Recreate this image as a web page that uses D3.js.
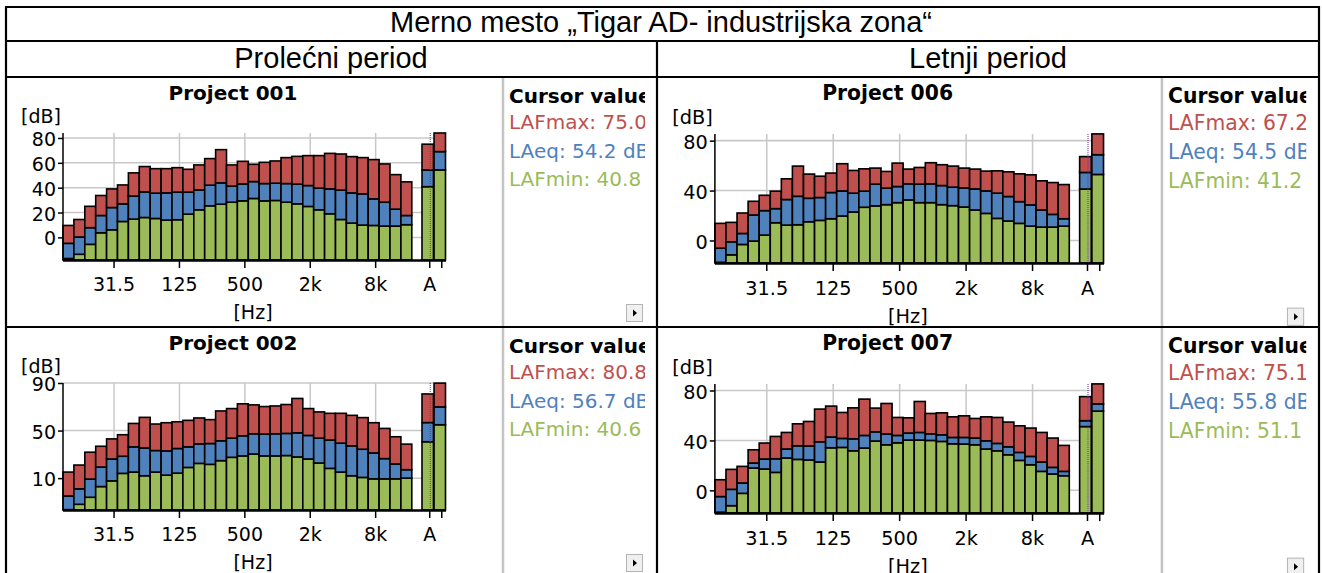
<!DOCTYPE html>
<html>
<head>
<meta charset="utf-8">
<script src="https://cdn.jsdelivr.net/npm/d3@7/dist/d3.min.js"></script>
<style>
  body { margin: 0; background: #fff; }
  svg { display: block; }
</style>
</head>
<body>
<script>
// 1/3 octave bands 12.5 Hz .. 16 kHz, then the two overall bars
var bands = ['12.5','16','20','25','31.5','40','50','63','80','100','125','160','200','250','315','400',
             '500','630','800','1k','1.25k','1.6k','2k','2.5k','3.15k','4k','5k','6.3k','8k','10k','12.5k','16k'];
var xTickLabels = ['31.5','125','500','2k','8k'];
var sumBands = ['A','Z'];
var seriesColors = { max: '#c0504d', eq: '#4f81bd', min: '#9bbb59' };

// Project 001 (prolecni)
var p001Max = [9.6,14.4,25,33.7,39,42.2,51.9,57,55.3,55.3,56.1,54.8,58.3,63.4,70.6,58.3,61.2,58.8,60.4,61.5,64.2,65.2,65.8,65.8,67.6,67.1,65,64.2,62.6,59.1,50.5,44.7];
var p001Eq  = [-4.8,0.3,7.8,17.6,24,27,33.2,36.6,35.6,35.8,36.4,36.4,38.2,42,43.9,41.2,43,44.9,43.3,43.6,43.3,42.8,41.7,39.6,39,38,35.8,35,31,28.3,22.7,17.6];
var p001Min = [-17,-13.6,-5.6,3.7,6.1,12.8,14.7,16,15.2,13.9,14.2,18.7,22.2,25.4,26.7,28.3,29.4,31.3,29.4,29.7,28.3,27,24.9,22.2,19,14.4,11.5,9.9,9.6,9.1,9.1,10.2];
var p001SumMax = [75.0, 84.0];
var p001SumEq  = [54.2, 69.0];
var p001SumMin = [40.8, 54.3];

// Project 002 (prolecni)
var p002Max = [15.1,21,31.8,36.8,43,46.5,56,61.1,55.5,56.6,57.4,58.6,60.6,59.2,66.5,68.5,72.5,71.6,70.2,70.7,71.9,77,68.5,65.7,64.5,64.5,62.8,60.9,56.6,51.8,44.8,38.6];
var p002Eq  = [-5,1,9.2,19.3,26.1,28.4,36.3,35.4,33.2,32.9,34.9,36.3,38.8,39.1,41.4,43.6,45.6,47.3,47,47.3,47.6,48.1,45.9,43.6,42,39.4,37.1,34.3,31.2,26.4,21.9,17.1];
var p002Min = [-16.5,-12,-6.1,2.9,7.7,14,15.1,12,15.1,12.5,14.2,19,22.4,21.6,24.7,27.5,28.7,30.3,28.7,28.7,29,27.8,26.1,22.7,18.2,15.1,12,10.6,9.4,9.4,9.4,10];
var p002SumMax = [80.8, 89.9];
var p002SumEq  = [56.7, 69.9];
var p002SumMin = [40.6, 54.9];

// Project 006 (letnji)
var p006Max = [13.7,14.5,22,31.4,36.2,39.5,49.4,59.6,53.2,51.5,54,61.5,56.1,57.4,58,55.3,62,57.2,58.5,62.3,60.7,59.6,58,57.2,55.6,55.8,55,53.4,52.6,47.8,46.4,44.8];
var p006Eq  = [-6.2,-1.1,5.6,20.4,23.9,25.5,32.8,35.4,33.8,34.4,38.4,39.7,37.9,39.5,45.1,41.9,43.2,45.4,45.1,45.4,44,42.7,42.1,41.3,39.7,37.9,35.2,31.1,28.5,24.4,20.9,17.4];
var p006Min = [-17.5,-11.5,-3.2,-0.5,4.3,14.2,12.3,12.6,15,16.1,17.4,19.6,22.8,26.6,27.7,28.7,30.3,32.5,30.3,30.3,28.7,27.9,26.8,24.4,21.7,17.7,15.6,13.7,11.5,10.7,10.7,11.5];
var p006SumMax = [67.2, 85.4];
var p006SumEq  = [54.5, 68.7];
var p006SumMin = [41.2, 52.9];

// Project 007 (letnji)
var p007Max = [8.5,16.8,19.2,32.5,37.9,43.2,46.4,53.3,55.2,65.1,67.5,62.4,66.1,73.1,65.9,69.6,58.4,58.1,71.2,61.6,62.1,58.9,59.7,57.6,58.9,58.4,54.7,51.7,49.9,46.4,41.9,36];
var p007Eq  = [-5,0.8,5.9,21.9,25.1,25.3,33.1,35.7,35.5,38.9,42.7,41.6,41.3,44,46.9,45.1,44,45.9,46.4,45.3,44.5,42.4,42.4,41.9,39.7,37.6,34.9,30.4,27.2,22.7,18.4,15.2];
var p007Min = [-17.5,-12.3,-2.4,17.9,17.1,14.4,25.9,24.8,24.3,22.7,34.1,34.4,31.7,33.9,39.5,36.5,38.1,40.3,40.3,40,39.2,37.3,37.1,36.5,33.1,31.7,28.5,24,20.5,15.2,13.1,11.7];
var p007SumMax = [75.1, 85.3];
var p007SumEq  = [55.8, 69.3];
var p007SumMin = [51.1, 63.5];

var W = 1322, H = 573;
var svg = d3.select('body').append('svg').attr('width', W).attr('height', H);
var defs = svg.append('defs');

// table headers
var hdr = 'Liberation Sans, Arial, sans-serif';
svg.append('text').attr('x', 661).attr('y', 32).attr('text-anchor', 'middle')
   .style('font-family', hdr).style('font-size', '29px')
   .text('Merno mesto \u201ETigar AD- industrijska zona\u201C');
svg.append('text').attr('x', 331).attr('y', 68).attr('text-anchor', 'middle')
   .style('font-family', hdr).style('font-size', '29px').text('Prole\u0107ni period');
svg.append('text').attr('x', 988).attr('y', 68).attr('text-anchor', 'middle')
   .style('font-family', hdr).style('font-size', '29px').text('Letnji period');

var panels = [
  { title: 'Project 001', max: p001Max, eq: p001Eq, min: p001Min, sMax: p001SumMax, sEq: p001SumEq, sMin: p001SumMin,
    yDomain: [-18.2, 84], yTicks: [0,20,40,60,80], x: 7, y: 77, s: 1, cw: 650, ch: 250 },
  { title: 'Project 002', max: p002Max, eq: p002Eq, min: p002Min, sMax: p002SumMax, sEq: p002SumEq, sMin: p002SumMin,
    yDomain: [-16.8, 90], yTicks: [10,50,90], x: 7, y: 327, s: 1, cw: 650, ch: 250 },
  { title: 'Project 006', max: p006Max, eq: p006Eq, min: p006Min, sMax: p006SumMax, sEq: p006SumEq, sMin: p006SumMin,
    yDomain: [-18, 85.4], yTicks: [0,40,80], x: 658, y: 77, s: 1.016, cw: 661, ch: 250 },
  { title: 'Project 007', max: p007Max, eq: p007Eq, min: p007Min, sMax: p007SumMax, sEq: p007SumEq, sMin: p007SumMin,
    yDomain: [-18.1, 85.3], yTicks: [0,40,80], x: 658, y: 327, s: 1.016, cw: 661, ch: 250 }
];

var font = 'DejaVu Sans, Verdana, sans-serif';

function stackedBars(g, rows, xs, y, lo) {
  var keys = ['min','eq','max'];
  rows.forEach(function (r) {
    var prev = lo;
    keys.forEach(function (k) {
      var v = Math.max(r[k], lo);
      g.append('rect')
        .attr('x', xs(r.band))
        .attr('width', xs.bandwidth())
        .attr('y', y(v))
        .attr('height', Math.max(0, y(prev) - y(v)))
        .attr('fill', seriesColors[k])
        .attr('stroke', '#000')
        .attr('stroke-width', 1.6);
      prev = v;
    });
  });
}

panels.forEach(function (p, pi) {
  var cid = 'cell' + pi;
  defs.append('clipPath').attr('id', cid).append('rect')
      .attr('x', 0).attr('y', 0).attr('width', p.cw / p.s).attr('height', p.ch / p.s);
  var g = svg.append('g').attr('transform', 'translate(' + p.x + ',' + p.y + ') scale(' + p.s + ')')
             .append('g').attr('clip-path', 'url(#' + cid + ')');

  var top = 56, base = 183, left = 56, axisEnd = 439, tickOff = 2;
  var x = d3.scaleBand().domain(bands).range([left, 404.8]);
  var xs = d3.scaleBand().domain(sumBands).range([415, 438.5]).paddingInner(0.05);
  var y = d3.scaleLinear().domain(p.yDomain).range([base, top]);
  var lo = p.yDomain[0];

  // grid
  g.selectAll('.hg').data(p.yTicks).enter().append('line')
    .attr('x1', left).attr('x2', axisEnd)
    .attr('y1', function (d) { return y(d); }).attr('y2', function (d) { return y(d); })
    .attr('stroke', '#c8c8c8').attr('stroke-width', 1.5);
  g.selectAll('.vg').data(xTickLabels).enter().append('line')
    .attr('x1', function (d) { return x(d) + x.bandwidth() / 2 + tickOff; })
    .attr('x2', function (d) { return x(d) + x.bandwidth() / 2 + tickOff; })
    .attr('y1', top).attr('y2', base)
    .attr('stroke', '#c8c8c8').attr('stroke-width', 1.5);

  var rows = bands.map(function (b, i) { return { band: b, min: p.min[i], eq: p.eq[i], max: p.max[i] }; });
  var sumRows = sumBands.map(function (b, i) { return { band: b, min: p.sMin[i], eq: p.sEq[i], max: p.sMax[i] }; });
  stackedBars(g, rows, x, y, lo);
  stackedBars(g, sumRows, xs, y, lo);

  // cursor line on the A bar
  var cx = xs('A') + xs.bandwidth() / 2 + 2.5;
  g.append('line').attr('x1', cx).attr('x2', cx).attr('y1', top).attr('y2', base)
    .attr('stroke', '#7030a0').attr('stroke-width', 1).attr('stroke-dasharray', '1,1');

  // y axis
  var yAx = g.append('g').attr('transform', 'translate(' + left + ',0)')
    .call(d3.axisLeft(y).tickValues(p.yTicks).tickSize(5).tickPadding(2));
  yAx.select('.domain').remove();
  yAx.selectAll('line').attr('stroke', '#000').attr('stroke-width', 1.5);
  yAx.selectAll('text').style('font-family', font).style('font-size', '19px').attr('fill', '#000').attr('dy', '0.4em');
  g.append('line').attr('x1', left).attr('x2', left).attr('y1', top).attr('y2', base)
    .attr('stroke', '#000').attr('stroke-width', 1.5);

  // x axes
  var xAx = g.append('g').attr('transform', 'translate(' + tickOff + ',' + base + ')')
    .call(d3.axisBottom(x).tickValues(xTickLabels).tickSize(8).tickPadding(10));
  var sAx = g.append('g').attr('transform', 'translate(' + tickOff + ',' + base + ')')
    .call(d3.axisBottom(xs).tickFormat(function (d) { return d === 'A' ? 'A' : ''; }).tickSize(8).tickPadding(10));
  [xAx, sAx].forEach(function (a) {
    a.select('.domain').remove();
    a.selectAll('line').attr('stroke', '#000').attr('stroke-width', 1.5);
    a.selectAll('text').style('font-family', font).style('font-size', '19px').attr('fill', '#000');
  });
  g.append('line').attr('x1', left).attr('x2', axisEnd).attr('y1', base + 0.5).attr('y2', base + 0.5)
    .attr('stroke', '#000').attr('stroke-width', 2.5);

  // labels
  g.append('text').attr('x', 226).attr('y', 23).attr('text-anchor', 'middle')
    .style('font-family', font).style('font-size', '20px').style('font-weight', 'bold').text(p.title);
  g.append('text').attr('x', 14).attr('y', 46)
    .style('font-family', font).style('font-size', '19px').text('[dB]');
  g.append('text').attr('x', 246).attr('y', 242).attr('text-anchor', 'middle')
    .style('font-family', font).style('font-size', '19px').text('[Hz]');

  // cursor value box
  g.append('line').attr('x1', 496).attr('x2', 496).attr('y1', 0).attr('y2', 260)
    .attr('stroke', '#c4c4c4').attr('stroke-width', 2.5);
  var lid = 'leg' + pi;
  defs.append('clipPath').attr('id', lid).append('rect').attr('x', 498).attr('y', 0).attr('width', 140).attr('height', 250);
  var leg = g.append('g').attr('clip-path', 'url(#' + lid + ')');
  leg.append('text').attr('x', 502).attr('y', 25.7)
    .style('font-family', font).style('font-size', '20px').style('font-weight', 'bold').text('Cursor value');
  var legRows = [
    { name: 'LAFmax', v: p.sMax[0], c: seriesColors.max },
    { name: 'LAeq', v: p.sEq[0], c: seriesColors.eq },
    { name: 'LAFmin', v: p.sMin[0], c: seriesColors.min }
  ];
  leg.selectAll('.lr').data(legRows).enter().append('text')
    .attr('x', 502).attr('y', function (d, i) { return 52.3 + i * 28.4; })
    .attr('fill', function (d) { return d.c; })
    .style('font-family', font).style('font-size', '20px')
    .text(function (d) { return d.name + ': ' + d.v.toFixed(1) + ' dB'; });

  // little scroll button
  g.append('rect').attr('x', 619.5).attr('y', 227.5).attr('width', 16).attr('height', 17)
    .attr('fill', '#f0f0f0').attr('stroke', '#b4b4b4');
  g.append('path').attr('d', 'M626,232.5 L630,236 L626,239.5 Z').attr('fill', '#000');
});

// table grid
var lines = [
  [6, 7, 1319, 7], [6, 41, 1319, 41], [6, 77, 1319, 77], [6, 327, 1319, 327],
  [6, 6, 6, 573], [1319, 6, 1319, 573], [657, 41, 657, 573]
];
svg.selectAll('.tl').data(lines).enter().append('line')
  .attr('x1', function (d) { return d[0]; }).attr('y1', function (d) { return d[1]; })
  .attr('x2', function (d) { return d[2]; }).attr('y2', function (d) { return d[3]; })
  .attr('stroke', '#000').attr('stroke-width', 2.2);
</script>
</body>
</html>
